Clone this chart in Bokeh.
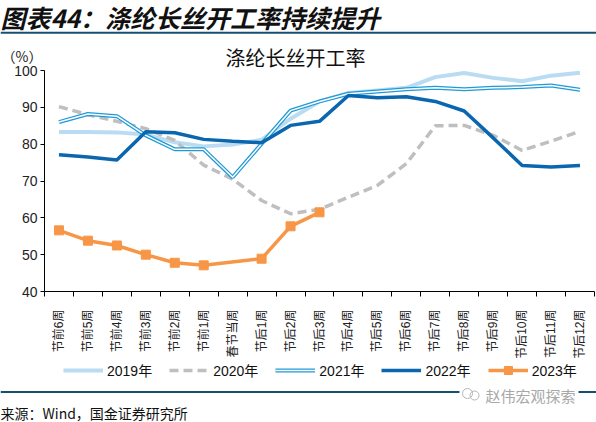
import math

from bokeh.core.properties import value
from bokeh.embed import file_html
from bokeh.models import FixedTicker, Legend, LegendItem, Range1d
from bokeh.plotting import figure
from bokeh.resources import INLINE

W, H = 596, 422
CJK = "Noto Sans CJK SC"
MIXED = "'Liberation Sans', 'Noto Sans CJK SC'"
RULE = "#16506f"
PIN = {"position": "absolute", "top": "0px", "left": "0px"}

# week labels around the Spring Festival
weeks = ["节前6周", "节前5周", "节前4周", "节前3周", "节前2周", "节前1周", "春节当周",
         "节后1周", "节后2周", "节后3周", "节后4周", "节后5周", "节后6周", "节后7周",
         "节后8周", "节后9周", "节后10周", "节后11周", "节后12周"]

# polyester filament operating rate, %
rate_2019 = [83.3, 83.3, 83.2, 82.6, 80.5, 79.4, 79.9, 81.2, 86.9, 91.6, 93.9, 94.6,
             95.3, 98.2, 99.3, 98.0, 97.1, 98.6, 99.4]
rate_2020 = [90.2, 88.0, 86.2, 84.2, 81.0, 74.3, 70.5, 64.7, 61.1, 62.3, 65.6, 68.8,
             74.7, 85.0, 85.1, 82.4, 78.3, 80.8, 83.5]
rate_2021 = [86.0, 88.2, 87.6, 82.4, 78.6, 78.6, 71.0, 80.1, 89.1, 91.6, 93.7, 94.3,
             94.9, 95.3, 94.9, 95.3, 95.5, 95.9, 94.8]
rate_2022 = [77.1, 76.5, 75.7, 83.4, 83.1, 81.3, 80.8, 80.4, 85.1, 86.2, 93.2, 92.6,
             92.9, 91.6, 89.0, 81.7, 74.2, 73.8, 74.2]
rate_2023 = [56.6, 53.8, 52.5, 50.0, 47.8, 47.1, None, 48.9, 57.7, 61.5]

years = ["2019年", "2020年", "2021年", "2022年", "2023年"]
y_ticks = [40, 50, 60, 70, 80, 90, 100]

x_all = list(range(len(weeks)))
x_23 = [i for i, v in enumerate(rate_2023) if v is not None]
v_23 = [v for v in rate_2023 if v is not None]

# series styles: (colour, width, dash)
STYLE = {
    "2019年": ("#b9dcf2", 4, "solid"),
    "2020年": ("#bfbfbf", 3.5, "9 5"),
    "2021年": ("#1f9ad6", 4, "solid"),
    "2022年": ("#0b66b0", 3.5, "solid"),
    "2023年": ("#f79646", 3.5, "solid"),
}

# ---- page furniture: caption, rules, chart title, unit, legend, source ----
deco = figure(width=W, height=H, x_range=Range1d(0, W), y_range=Range1d(H, 0),
              output_backend="svg", toolbar_location=None, min_border=0,
              x_axis_type=None, y_axis_type=None, outline_line_color=None, styles=PIN)
deco.text(x=[0], y=[16], text=["图表44：涤纶长丝开工率持续提升"], text_font=value(CJK),
          text_font_size="25px", text_font_style="bold italic", text_color="#111111",
          text_align="left", text_baseline="middle")
deco.segment(x0=[0], y0=[32.3], x1=[W], y1=[32.3], line_color=RULE, line_width=2)
deco.text(x=[1], y=[55], text=["（%）"], text_font=value(CJK), text_font_size="14px",
          text_color="#222222", text_align="left", text_baseline="middle")
deco.text(x=[295], y=[57], text=["涤纶长丝开工率"], text_font=value(CJK),
          text_font_size="20px", text_color="#111111", text_align="center",
          text_baseline="middle")

deco.segment(x0=[0], y0=[391.5], x1=[W], y1=[391.5], line_color=RULE, line_width=2)
deco.quad(left=[459], right=[578], top=[386], bottom=[400], fill_color="white", line_color=None)
deco.scatter(x=[467, 474], y=[393, 395], marker="circle", size=[10, 9], fill_color=None,
             line_color="#b5b5b5", line_width=1)
deco.text(x=[485], y=[394.5], text=["赵伟宏观探索"], text_font=value(CJK), text_font_size="15px",
          text_color="#a8a8a8", text_align="left", text_baseline="middle")
deco.text(x=[0], y=[412], text=["来源：Wind，国金证券研究所"], text_font=value(CJK),
          text_font_size="14px", text_color="#111111", text_align="left",
          text_baseline="middle")

# legend keys share the series styles; their renderers hold a single blank point
blank = [float("nan")]
keys = []
for name in years:
    color, width, dash = STYLE[name]
    rs = [deco.line(x=blank, y=blank, line_color=color, line_width=width, line_dash=dash)]
    if name == "2021年":
        rs.append(deco.line(x=blank, y=blank, line_color="white", line_width=1.5))
    if name == "2023年":
        rs.append(deco.scatter(x=blank, y=blank, marker="square", size=9, fill_color=color,
                               line_color=color))
    keys.append(LegendItem(label=name, renderers=rs))

deco.add_layout(Legend(items=keys, orientation="horizontal", location=(63, 42),
                       glyph_width=40, glyph_height=20, label_standoff=4, spacing=17,
                       padding=0, margin=0, border_line_color=None, background_fill_alpha=0,
                       label_text_font=MIXED, label_text_font_size="14px",
                       label_text_color="#111111"))

# ---- chart ----
p = figure(width=W, height=H, x_range=Range1d(-0.5, 18.5), y_range=Range1d(40, 100),
           output_backend="svg", toolbar_location=None, styles=PIN,
           min_border_left=44, min_border_right=2, min_border_top=70, min_border_bottom=131)
p.outline_line_color = None
p.background_fill_alpha = 0
p.border_fill_alpha = 0
p.grid.visible = False

xa = p.xaxis[0]
xa.ticker = FixedTicker(ticks=x_all, minor_ticks=[i - 0.5 for i in range(len(weeks) + 1)])
xa.major_label_overrides = {i: w for i, w in enumerate(weeks)}
xa.major_label_orientation = math.pi / 2
xa.major_tick_line_color = None
xa.major_tick_in = 0
xa.major_tick_out = 0
xa.minor_tick_line_color = "black"
xa.minor_tick_in = 0
xa.minor_tick_out = 5
xa.major_label_standoff = 13
xa.major_label_text_font = MIXED
xa.major_label_text_font_size = "12px"
xa.major_label_text_color = "#222222"
xa.axis_line_color = "black"

ya = p.yaxis[0]
ya.ticker = FixedTicker(ticks=y_ticks)
ya.minor_tick_line_color = None
ya.major_tick_in = 0
ya.major_tick_out = 4
ya.major_label_standoff = 3
ya.major_label_text_font = "Liberation Sans"
ya.major_label_text_font_size = "14px"
ya.major_label_text_color = "#222222"
ya.axis_line_color = "black"

series = [("2019年", rate_2019), ("2020年", rate_2020), ("2021年", rate_2021),
          ("2022年", rate_2022)]
for name, vals in series:
    color, width, dash = STYLE[name]
    p.line(x_all, vals, line_color=color, line_width=width, line_dash=dash)
    if name == "2021年":
        p.line(x_all, vals, line_color="white", line_width=1.5)

c23, w23, _ = STYLE["2023年"]
p.line(x_23, v_23, line_color=c23, line_width=w23)
p.scatter(x_23, v_23, marker="square", size=9, fill_color=c23, line_color=c23)

open("out.html", "w").write(file_html([deco, p], INLINE))
